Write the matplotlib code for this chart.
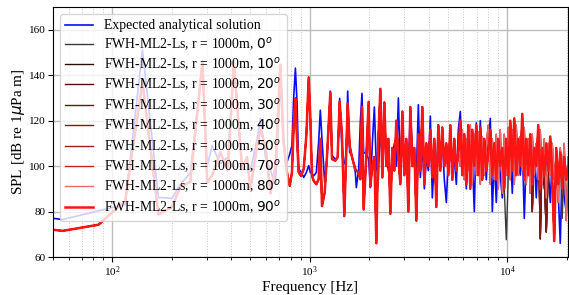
import matplotlib
matplotlib.use("Agg")
import matplotlib.pyplot as plt

plt.rcParams["font.family"] = "serif"
plt.rcParams["font.serif"] = ["Liberation Serif", "DejaVu Serif"]

# frequency grid [Hz], split into low / mid / high-frequency segments
freq_low = [50, 56, 85, 101, 116, 142, 171, 200, 221, 248, 286, 302, 320, 352,
            385, 412, 454, 481, 500, 541, 562, 596, 632, 670, 709, 735]
freq_mid = [760, 791, 812, 828, 845, 861, 878, 902, 931, 960, 987, 1006, 1026,
            1046, 1079, 1108, 1130, 1152, 1189, 1222, 1270, 1295, 1346, 1383,
            1416, 1455, 1495, 1525, 1555, 1591, 1635, 1700, 1720, 1768, 1802,
            1837, 1873, 1933, 1986]
freq_high = [2025, 2073, 2122, 2172, 2223, 2276, 2330, 2385, 2441, 2499,
             2558, 2618, 2680, 2743, 2808, 2874, 2942, 3011, 3082, 3155,
             3229, 3305, 3383, 3463, 3545, 3628, 3714, 3802, 3891, 3983,
             4077, 4173, 4272, 4372, 4476, 4581, 4689, 4800, 4913, 5029,
             5148, 5269, 5393, 5521, 5651, 5784, 5921, 6060, 6203, 6350,
             6499, 6653, 6810, 6970, 7135, 7303, 7475, 7651, 7832, 8016,
             8205, 8399, 8597, 8799, 9007, 9219, 9437, 9659, 9887, 10120,
             10359, 10603, 10853, 11109, 11371, 11639, 11914, 12195, 12482, 12777,
             13078, 13386, 13702, 14025, 14356, 14695, 15041, 15396, 15759, 16131,
             16511, 16900, 17299, 17707, 18124, 18552, 18989, 19437, 19895, 20364]

# expected analytical solution [dB]
ana_low = [77, 76.5, 80.3, 81.8, 83, 151, 86.2, 85.8, 92, 97, 146, 100, 109, 101,
           104, 146, 100, 103, 98, 112, 121, 104, 98, 92, 138, 110]
ana_mid = [100.9, 105.3, 109, 129.8, 143.1, 128.3, 98.7, 97.5, 95, 97.2, 100.2,
           97.2, 96.5, 95.7, 97.2, 110.5, 124.6, 112, 92.8, 103.1, 133, 104.6,
           103.1, 103.9, 129.8, 107.6, 101.6, 100.2, 133, 106.1, 104.6, 97.2,
           90.5, 98.7, 119.4, 132, 106.1, 105.3, 103.1]
ana_high = [90.5, 110, 126, 100, 94, 122, 98, 115, 104, 98,
            94, 104, 110, 100, 130, 97, 110, 101, 106, 98,
            124, 108, 100, 96, 127, 95, 110, 90, 104, 98,
            122, 86, 104, 92, 118, 100, 112, 94, 84, 104,
            112, 98, 104, 92, 116, 124, 100, 106, 90, 110,
            96, 104, 80, 119, 100, 120, 98, 106, 94, 110,
            121, 80, 104, 84, 108, 96, 86, 98, 106, 100,
            110, 88, 112, 100, 104, 96, 110, 77, 104, 98,
            108, 96, 104, 86, 106, 96, 102, 90, 106, 98,
            84, 104, 98, 100, 88, 66, 100, 86, 80, 96]

# FWH-ML2-Ls, r = 1000 m [dB]; low and mid segments shared by all angles
fwh_low = [72, 71.5, 74.2, 80.1, 84.5, 137, 78.7, 82, 91, 93, 146, 92.7, 96, 106,
           98, 146, 98.6, 104, 89.7, 109, 116, 109, 88, 100, 144.6, 112]
fwh_mid = [98.7, 91.3, 97.2, 117.9, 129.8, 112, 97.2, 95.7, 98.7, 113.5, 139,
           120.9, 95.7, 93.5, 92, 94.2, 112, 82.4, 88.3, 104.6, 132.4, 103.1,
           102.4, 103.9, 128.3, 113.5, 78, 103.1, 127.5, 109, 103.9, 98.7, 98,
           97.2, 94.2, 126, 80.9, 104.6, 128.3]
# 90 deg
fwh_high_90 = [91, 100, 104, 66, 112, 134, 95, 128, 100, 112,
               79, 108, 98, 120, 104, 92, 124, 96, 112, 80,
               126, 100, 108, 76, 114, 98, 126, 92, 110, 100,
               116, 95, 112, 82, 118, 98, 117, 100, 110, 96,
               118, 94, 112, 98, 106, 120, 96, 114, 92, 118,
               90, 116, 100, 118, 96, 117, 94, 112, 98, 106,
               116, 96, 110, 94, 112, 100, 108, 90, 112, 96,
               120, 98, 121, 96, 112, 100, 123, 94, 112, 96,
               114, 92, 108, 100, 118, 90, 108, 96, 110, 98,
               113, 94, 67, 108, 92, 106, 90, 104, 94, 100]
# 50-80 deg
fwh_high_50 = [91, 100, 104, 66, 112, 134, 95, 128, 100, 112,
               79, 108, 98, 120, 104, 92, 124, 96, 112, 80,
               126, 100, 108, 76, 114, 98, 126, 92, 110, 100,
               116, 95, 112, 82, 118, 98, 117, 100, 110, 96,
               118, 94, 112, 98, 106, 100, 116, 94, 112, 98,
               118, 92, 114, 96, 115, 92, 113, 96, 110, 118,
               92, 112, 94, 114, 90, 116, 88, 114, 96, 117,
               94, 116, 92, 118, 96, 113, 98, 117, 92, 112,
               88, 114, 96, 110, 94, 116, 92, 112, 86, 110,
               96, 110, 94, 106, 84, 108, 96, 110, 76, 104]
# 10-40 deg
fwh_high_10 = [91, 100, 104, 66, 112, 134, 95, 128, 100, 112,
               79, 108, 98, 120, 104, 92, 124, 96, 112, 80,
               126, 100, 108, 76, 114, 98, 126, 92, 110, 100,
               116, 95, 112, 82, 118, 98, 117, 100, 110, 96,
               118, 94, 112, 98, 106, 120, 96, 114, 92, 118,
               90, 116, 100, 118, 96, 117, 94, 112, 98, 106,
               116, 96, 110, 94, 112, 100, 108, 90, 112, 96,
               120, 98, 121, 96, 112, 100, 123, 94, 112, 96,
               114, 80, 108, 100, 118, 68, 108, 96, 71, 98,
               113, 94, 67, 108, 92, 106, 90, 104, 94, 100]
# 0 deg
fwh_high_0 = [91, 100, 104, 66, 112, 134, 95, 128, 100, 112,
              79, 108, 98, 120, 104, 92, 124, 96, 112, 80,
              126, 100, 108, 76, 114, 98, 126, 92, 110, 100,
              116, 95, 112, 82, 118, 98, 117, 100, 110, 96,
              118, 94, 112, 98, 106, 120, 96, 114, 92, 118,
              90, 116, 100, 118, 96, 117, 94, 112, 98, 106,
              116, 96, 110, 94, 112, 100, 108, 90, 67.6, 96,
              120, 98, 121, 96, 112, 100, 123, 94, 112, 96,
              114, 92, 108, 100, 118, 90, 108, 96, 110, 98,
              113, 94, 67, 108, 92, 106, 77, 104, 94, 100]

angles = [0, 10, 20, 30, 40, 50, 70, 80, 90]
colors = ["#3a3a3a", "#2e0c0c", "#4a0f0f", "#6e1414", "#861717",
          "#a51c1c", "#c62626", "#ec6a6a", "#ff1414"]
widths = [1.0, 1.0, 1.0, 1.0, 1.0, 1.0, 1.0, 1.0, 1.8]
high_by_angle = {0: fwh_high_0, 10: fwh_high_10, 20: fwh_high_10,
                 30: fwh_high_10, 40: fwh_high_10, 50: fwh_high_50,
                 70: fwh_high_50, 80: fwh_high_50, 90: fwh_high_90}

freq = freq_low + freq_mid + freq_high
spl_ana = ana_low + ana_mid + ana_high

fig = plt.figure(figsize=(5.69, 2.95), dpi=100)
ax = fig.add_axes([0.0931, 0.1288, 0.9051, 0.8475])

ax.plot(freq, spl_ana, color="#0a0aff", linewidth=1.2,
        label="Expected analytical solution")
for a, c, w in zip(angles, colors, widths):
    spl = fwh_low + fwh_mid + high_by_angle[a]
    ax.plot(freq, spl, color=c, linewidth=w,
            label="FWH-ML2-Ls, r = 1000m, $%d^o$" % a)

ax.set_xscale("log")
ax.set_xlim(50, 20300)
ax.set_ylim(60, 170)
ax.set_yticks([60, 80, 100, 120, 140, 160])
ax.tick_params(axis="both", labelsize=8, pad=2)
ax.grid(True, which="major", color="#bdbdbd", linewidth=1.0)
ax.grid(True, which="minor", color="#c8c8c8", linestyle=":", linewidth=0.7)
ax.set_xlabel("Frequency [Hz]", fontsize=11, labelpad=1)
ax.set_ylabel(r"SPL [dB re 1$\mu$Pa m]", fontsize=11, labelpad=1)

ax.legend(loc="upper left", fontsize=9.9, framealpha=0.8,
          handlelength=2.0, labelspacing=0.2)

fig.savefig("out.png", dpi=100)
